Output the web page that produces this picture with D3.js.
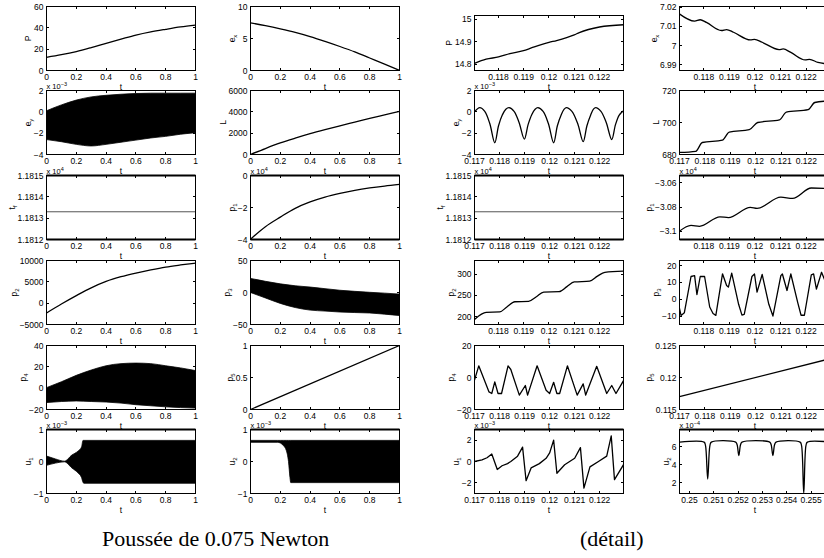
<!DOCTYPE html>
<html>
<head>
<meta charset="utf-8">
<script src="https://cdn.jsdelivr.net/npm/d3@7"></script>
<style>
body { margin: 0; background: #fff; }
svg { display: block; }
text { font-family: "Liberation Sans", Arial, sans-serif; fill: #000; }
</style>
</head>
<body>
<script>
// ---- full run (t from 0 to 1) ----
var tFull = [0, 0.1, 0.2, 0.3, 0.4, 0.5, 0.6, 0.7, 0.8, 0.9, 1];
var pFull = [12.3, 14.8, 17.8, 21.5, 25.5, 29.4, 33.2, 36.2, 38.6, 40.8, 42.5];
var exFull = [7.45, 7.0, 6.5, 5.95, 5.3, 4.55, 3.75, 2.9, 1.95, 1.0, 0.02];
var lFull = [0, 560, 1080, 1530, 1950, 2330, 2690, 3040, 3390, 3720, 4050];
var p1Full = [-3.98, -3.2, -2.6, -2.05, -1.65, -1.35, -1.12, -0.93, -0.78, -0.66, -0.56];
var p2Full = [-2300, -200, 1770, 3600, 5100, 6200, 7060, 7800, 8450, 8950, 9400];
// oscillating quantities: envelope of the black band
var eyHi = [0.1, 0.65, 1.1, 1.4, 1.55, 1.65, 1.72, 1.75, 1.75, 1.75, 1.75];
var eyLo = [-2.6, -2.8, -3.05, -3.2, -3.05, -2.85, -2.65, -2.45, -2.3, -2.1, -1.95];
var p3Hi = [22, 17.5, 13.5, 10.5, 8.5, 6, 3.5, 1.8, 0.3, -1, -2.5];
var p3Lo = [0, -8.5, -17, -23.5, -27.5, -29, -30.5, -31.3, -32, -33.8, -36];
var p4Hi = [0.5, 6, 12, 17, 21, 23, 23.5, 23, 21, 19, 16.5];
var p4Lo = [-13.5, -12.5, -12, -12.5, -13, -14, -15.5, -16.5, -17.5, -18.2, -18.7];
var u1T = [0, 0.06, 0.12, 0.17, 0.21, 0.235, 0.245, 0.25, 1];
var u1Hi = [0.17, 0.08, 0.01, 0.2, 0.32, 0.45, 0.66, 0.66, 0.66];
var u1Lo = [-0.12, -0.05, -0.01, -0.2, -0.35, -0.5, -0.65, -0.68, -0.68];
var u2T = [0, 0.18, 0.2, 0.22, 0.24, 0.255, 0.265, 0.27, 1];
var u2Hi = [0.66, 0.66, 0.66, 0.66, 0.66, 0.66, 0.66, 0.66, 0.66];
var u2Lo = [0.6, 0.6, 0.58, 0.5, 0.35, 0, -0.5, -0.66, -0.66];
var tLine = [0, 1];
var tfLine = [1.18133, 1.18133];
var p5Full = [0, 1];

// ---- detail window ----
var pDetT = [0.11705, 0.11751, 0.118, 0.11845, 0.11899, 0.1193, 0.12, 0.1203, 0.121, 0.1212, 0.122, 0.12295];
var pDet = [14.804, 14.822, 14.832, 14.847, 14.86, 14.872, 14.897, 14.905, 14.93, 14.94, 14.965, 14.975];
var eyDetT = [0.117, 0.11721, 0.11741, 0.11761, 0.11781, 0.11796, 0.11811, 0.11825, 0.11838, 0.11858, 0.11878, 0.11899,
  0.11914, 0.11929, 0.11942, 0.11953, 0.11974, 0.11995, 0.12016, 0.12031, 0.12046, 0.12058, 0.12067, 0.12089,
  0.12112, 0.12134, 0.12149, 0.12164, 0.12175, 0.12184, 0.12205, 0.12226, 0.12248, 0.12263, 0.12278, 0.12295];
var eyDet = [0, 0.4, 0.05, -1.1, -2.9, -1.3, -0.3, 0.25, 0.4, 0.05, -1.0, -2.55,
  -1.2, -0.25, 0.25, 0.4, 0.05, -1.1, -2.9, -1.3, -0.3, 0.25, 0.4, 0.05,
  -1.1, -2.8, -1.3, -0.3, 0.25, 0.4, 0.05, -1.0, -2.6, -1.2, -0.3, 0.1];
var tDetLine = [0.117, 0.12295];
var p2DetT = [0.11705, 0.11731, 0.11751, 0.11805, 0.11832, 0.11865, 0.11919, 0.1195, 0.11979, 0.1204, 0.12071, 0.121, 0.12161, 0.12192, 0.12221, 0.12295];
var p2Det = [193, 205, 210, 211, 222, 235, 236, 247, 258, 259, 271, 282, 284, 296, 305, 308];
var p4DetT = [0.117, 0.11717, 0.11758, 0.11769, 0.11781, 0.11794, 0.11808, 0.11834, 0.11845, 0.11879, 0.11903, 0.11912, 0.1195,
  0.11986, 0.12, 0.12016, 0.12029, 0.1204, 0.12071, 0.1211, 0.12134, 0.12144, 0.12188, 0.12228, 0.12248, 0.12265, 0.12295];
var p4Det = [-1.6, 7.3, -9, -10, -2.7, -10, -10, 7.3, 5, -11, -5, -11, 7.3,
  -8, -10, -3, -10, -10, 7.3, -11, -4, -11, 7, -10, -5, -10, -2];
var u1DetT = [0.117, 0.1173, 0.1175, 0.11769, 0.11791, 0.1181, 0.11832, 0.11845, 0.11872, 0.11892, 0.11906, 0.11926, 0.11959,
  0.11986, 0.12, 0.12016, 0.12029, 0.1206, 0.121, 0.12123, 0.12137, 0.12161, 0.12195, 0.12228, 0.12246, 0.12259, 0.12295];
var u1Det = [0, 0.15, 0.35, 0.7, -0.75, -0.4, -0.2, 0, 0.5, 1.35, -1.8, -0.6, -0.2,
  0.3, 0.8, 2.0, -1.1, -0.3, 0.3, 1.3, -2.5, -0.5, 0, 0.5, 2.4, -1.7, -0.3];
var exDetT = [0.117, 0.11764, 0.11786, 0.1181, 0.11869, 0.11889, 0.11916, 0.11982, 0.11998, 0.12028, 0.12094, 0.1211, 0.1214, 0.12196, 0.12213, 0.12246, 0.1229];
var exDet = [7.0169, 7.0127, 7.0134, 7.012, 7.0078, 7.0083, 7.0069, 7.0029, 7.0032, 7.0017, 6.9979, 6.9982, 6.9964, 6.9925, 6.9928, 6.9912, 6.9904];
var lDetT = [0.117, 0.11764, 0.1179, 0.11869, 0.11896, 0.11975, 0.12008, 0.12094, 0.12121, 0.12207, 0.12233, 0.1229];
var lDet = [681.3, 682, 687.5, 689, 694, 695.5, 700, 701.6, 706.5, 708, 712.5, 713.5];
var p1DetT = [0.117, 0.1175, 0.11783, 0.11863, 0.11896, 0.11982, 0.12008, 0.12101, 0.12147, 0.1222, 0.1229];
var p1Det = [-3.1006, -3.095, -3.0958, -3.088, -3.0886, -3.0802, -3.081, -3.0718, -3.0728, -3.0642, -3.0648];
var p3DetT = [0.117, 0.11711, 0.11724, 0.1175, 0.11764, 0.11773, 0.11786, 0.11803, 0.11823, 0.11836, 0.11847, 0.11873,
  0.11889, 0.11896, 0.11909, 0.11936, 0.11949, 0.11958, 0.11988, 0.11998, 0.12008, 0.12028, 0.12054, 0.1207,
  0.12101, 0.12107, 0.12125, 0.1214, 0.12167, 0.1218, 0.12193, 0.1222, 0.12229, 0.1224, 0.1226, 0.1229];
var p3Det = [-2, -9.6, -8, 13.5, 14, 2.8, 13.5, 13.5, -4.6, -8.5, -9.6, 15.1,
  8.2, 7.2, 15.5, -3, -9.4, -9, 13.5, 15, 4.2, 14.7, -3, -10,
  14, 15, 5.2, 15, -2, -9.5, -9.5, 14.5, 15, 6, 16, 5];
var p5Det = [0.117, 0.12295];
var u2DetT = [0.2496, 0.2506, 0.25066, 0.25075, 0.25084, 0.2509, 0.2519, 0.25196, 0.25203, 0.2521, 0.25216,
  0.2533, 0.25336, 0.25343, 0.2535, 0.25356, 0.25455, 0.25461, 0.2547, 0.25479, 0.25485, 0.2558];
var u2Det = [6.5, 6.5, 6.1, 2.4, 6.1, 6.5, 6.5, 6.2, 5.0, 6.2, 6.5,
  6.5, 6.2, 5.0, 6.2, 6.5, 6.5, 6.1, 0.8, 6.1, 6.5, 6.5];

// ---- tick labels ----
var xTicksFull = [0, 0.2, 0.4, 0.6, 0.8, 1];
var xTicksDet = [0.117, 0.118, 0.119, 0.12, 0.121, 0.122, 0.123];
var xTicksU2 = [0.25, 0.251, 0.252, 0.253, 0.254, 0.255];
var ticksP = [0, 20, 40, 60], ticksEy = [-4, -2, 0, 2], ticksTf = [1.1812, 1.1813, 1.1814, 1.1815],
    ticksP2 = [-5000, 0, 5000, 10000], ticksP4 = [-20, 0, 20, 40], ticksU = [-1, 0, 1],
    ticksEx = [0, 5, 10], ticksL = [0, 2000, 4000, 6000], ticksP1 = [-4, -2, 0],
    ticksP3 = [-50, 0, 50], ticksP5 = [0, 0.5, 1];
var ticksPDet = [14.8, 14.9, 15], ticksP2Det = [200, 250, 300], ticksP4Det = [-20, 0, 20],
    ticksU1Det = [-2, 0, 2], ticksExDet = [6.99, 7, 7.01, 7.02], ticksLDet = [680, 700, 720],
    ticksP1Det = [-3.1, -3.08, -3.06], ticksP3Det = [-10, 0, 10, 20],
    ticksP5Det = [0.115, 0.12, 0.125], ticksU2Det = [2, 4, 6];

var full = [0, 1], det = [0.117, 0.12295], det2 = [0.11705, 0.12295],
    det4 = [0.117, 0.12295], det4b = [0.11705, 0.12295];

var panels = [
  {col: 0, row: 0, name: "P", sub: "", t: tFull, y: pFull, xDom: full, xTicks: xTicksFull, yDom: [0, 60], yTicks: ticksP, smooth: true},
  {col: 0, row: 1, name: "e", sub: "y", t: tFull, lo: eyLo, hi: eyHi, xDom: full, xTicks: xTicksFull, yDom: [-4, 2], yTicks: ticksEy, exp: "\u22123"},
  {col: 0, row: 2, name: "t", sub: "f", t: tLine, y: tfLine, xDom: full, xTicks: xTicksFull, yDom: [1.1812, 1.1815], yTicks: ticksTf, exp: "4", thin: true},
  {col: 0, row: 3, name: "p", sub: "2", t: tFull, y: p2Full, xDom: full, xTicks: xTicksFull, yDom: [-5000, 10000], yTicks: ticksP2, smooth: true},
  {col: 0, row: 4, name: "p", sub: "4", t: tFull, lo: p4Lo, hi: p4Hi, xDom: full, xTicks: xTicksFull, yDom: [-20, 40], yTicks: ticksP4},
  {col: 0, row: 5, name: "u", sub: "1", t: u1T, lo: u1Lo, hi: u1Hi, xDom: full, xTicks: xTicksFull, yDom: [-1, 1], yTicks: ticksU, exp: "\u22123"},
  {col: 1, row: 0, name: "e", sub: "x", t: tFull, y: exFull, xDom: full, xTicks: xTicksFull, yDom: [0, 10], yTicks: ticksEx, smooth: true},
  {col: 1, row: 1, name: "L", sub: "", t: tFull, y: lFull, xDom: full, xTicks: xTicksFull, yDom: [0, 6000], yTicks: ticksL, smooth: true},
  {col: 1, row: 2, name: "p", sub: "1", t: tFull, y: p1Full, xDom: full, xTicks: xTicksFull, yDom: [-4, 0], yTicks: ticksP1, exp: "4", smooth: true},
  {col: 1, row: 3, name: "p", sub: "3", t: tFull, lo: p3Lo, hi: p3Hi, xDom: full, xTicks: xTicksFull, yDom: [-50, 50], yTicks: ticksP3},
  {col: 1, row: 4, name: "p", sub: "5", t: tLine, y: p5Full, xDom: full, xTicks: xTicksFull, yDom: [0, 1], yTicks: ticksP5},
  {col: 1, row: 5, name: "u", sub: "2", t: u2T, lo: u2Lo, hi: u2Hi, xDom: full, xTicks: xTicksFull, yDom: [-1, 1], yTicks: ticksU, exp: "\u22123"},
  {col: 2, row: 0, name: "P", sub: "", t: pDetT, y: pDet, xDom: det2, xTicks: xTicksDet, yDom: [14.772, 15.016], yTicks: ticksPDet, smooth: true},
  {col: 2, row: 1, name: "e", sub: "y", t: eyDetT, y: eyDet, xDom: det, xTicks: xTicksDet, yDom: [-4, 2], yTicks: ticksEy, exp: "\u22123", catmull: true},
  {col: 2, row: 2, name: "t", sub: "f", t: tDetLine, y: tfLine, xDom: det, xTicks: xTicksDet, yDom: [1.1812, 1.1815], yTicks: ticksTf, exp: "4", thin: true},
  {col: 2, row: 3, name: "p", sub: "2", t: p2DetT, y: p2Det, xDom: det2, xTicks: xTicksDet, yDom: [181, 333], yTicks: ticksP2Det, smooth: true},
  {col: 2, row: 4, name: "p", sub: "4", t: p4DetT, y: p4Det, xDom: det, xTicks: xTicksDet, yDom: [-20, 20], yTicks: ticksP4Det},
  {col: 2, row: 5, name: "u", sub: "1", t: u1DetT, y: u1Det, xDom: det, xTicks: xTicksDet, yDom: [-3, 3], yTicks: ticksU1Det, exp: "\u22123"},
  {col: 3, row: 0, name: "e", sub: "x", t: exDetT, y: exDet, xDom: det4b, xTicks: xTicksDet, yDom: [6.987, 7.0203], yTicks: ticksExDet, smooth: true},
  {col: 3, row: 1, name: "L", sub: "", t: lDetT, y: lDet, xDom: det4, xTicks: xTicksDet, yDom: [680, 720], yTicks: ticksLDet, smooth: true},
  {col: 3, row: 2, name: "p", sub: "1", t: p1DetT, y: p1Det, xDom: det4b, xTicks: xTicksDet, yDom: [-3.1067, -3.0539], yTicks: ticksP1Det, exp: "4", smooth: true},
  {col: 3, row: 3, name: "p", sub: "3", t: p3DetT, y: p3Det, xDom: det4b, xTicks: xTicksDet, yDom: [-15, 23], yTicks: ticksP3Det},
  {col: 3, row: 4, name: "p", sub: "5", t: tDetLine, y: p5Det, xDom: det4, xTicks: xTicksDet, yDom: [0.115, 0.125], yTicks: ticksP5Det},
  {col: 3, row: 5, name: "u", sub: "2", t: u2DetT, y: u2Det, xDom: [0.24959, 0.2558], xTicks: xTicksU2, yDom: [0.8, 7.9], yTicks: ticksU2Det, exp: "\u22124", catmull: true}
];

// ---- layout ----
var width = 824, height = 558;
var colLeft = [46, 250, 474, 679],
    colWidth = [149, 149, 149, 151],
    rowTop = [6, 90, 175, 260, 345, 429],
    panelH = 64,
    tickLen = 2.5,
    fontSize = 8.5;

var svg = d3.select("body").append("svg")
    .attr("width", width)
    .attr("height", height);

function fmt(d) {
  return String(+d.toPrecision(6)).replace("-", "\u2212");
}

panels.forEach(function(p, i) {
  var left = colLeft[p.col] + 0.5,
      right = left + colWidth[p.col],
      bottom = rowTop[p.row] + panelH + 0.5,
      top = (p.col === 2 && p.row === 0) ? 15.5 : rowTop[p.row] + 0.5;

  var x = d3.scaleLinear().domain(p.xDom).range([left, right]);
  var y = d3.scaleLinear().domain(p.yDom).range([bottom, top]);

  var g = svg.append("g").attr("class", "panel");
  var clipId = "clip" + i;
  g.append("clipPath").attr("id", clipId)
    .append("rect")
      .attr("x", left).attr("y", top)
      .attr("width", right - left).attr("height", bottom - top);

  var plot = g.append("g").attr("clip-path", "url(#" + clipId + ")");
  var idx = d3.range(p.t.length);

  if (p.lo) {
    var area = d3.area()
        .x(function(k) { return x(p.t[k]); })
        .y0(function(k) { return y(p.lo[k]); })
        .y1(function(k) { return y(p.hi[k]); })
        .curve(d3.curveMonotoneX);
    plot.append("path").attr("d", area(idx))
        .attr("fill", "#000").attr("stroke", "#000").attr("stroke-width", 0.8);
  } else {
    var curve = p.smooth ? d3.curveMonotoneX : (p.catmull ? d3.curveCatmullRom.alpha(0.5) : d3.curveLinear);
    var line = d3.line()
        .x(function(k) { return x(p.t[k]); })
        .y(function(k) { return y(p.y[k]); })
        .curve(curve);
    plot.append("path").attr("d", line(idx))
        .attr("fill", "none")
        .attr("stroke", p.thin ? "#555" : "#000")
        .attr("stroke-width", p.thin ? 1 : 1.3)
        .attr("stroke-linejoin", "round");
  }

  // box (the printed original shows heavier rules on some edges)
  g.append("rect")
      .attr("x", left).attr("y", top)
      .attr("width", right - left).attr("height", bottom - top)
      .attr("fill", "none").attr("stroke", "#000").attr("stroke-width", 1);
  if (p.row === 2 || p.row === 5) {
    g.append("line").attr("x1", left).attr("x2", right).attr("y1", top).attr("y2", top)
        .attr("stroke", "#000").attr("stroke-width", 2);
  }
  if (p.row === 2) {
    g.append("line").attr("x1", left).attr("x2", right).attr("y1", bottom).attr("y2", bottom)
        .attr("stroke", "#000").attr("stroke-width", 2);
  }

  // ticks inside, on all four sides
  var xt = p.xTicks.filter(function(d) { return d >= p.xDom[0] - 1e-9 && d <= p.xDom[1] + 1e-9; });
  var yt = p.yTicks;
  xt.forEach(function(d) {
    var px = Math.round(x(d) - 0.5) + 0.5;
    g.append("line").attr("x1", px).attr("x2", px).attr("y1", bottom).attr("y2", bottom - tickLen).attr("stroke", "#000");
    g.append("line").attr("x1", px).attr("x2", px).attr("y1", top).attr("y2", top + tickLen).attr("stroke", "#000");
    g.append("text").attr("x", x(d)).attr("y", bottom + 9.5)
        .attr("text-anchor", "middle").attr("font-size", fontSize)
        .text(fmt(d));
  });
  var maxW = 0;
  yt.forEach(function(d) {
    var py = Math.round(y(d) - 0.5) + 0.5;
    g.append("line").attr("x1", left).attr("x2", left + tickLen).attr("y1", py).attr("y2", py).attr("stroke", "#000");
    g.append("line").attr("x1", right).attr("x2", right - tickLen).attr("y1", py).attr("y2", py).attr("stroke", "#000");
    var lab = g.append("text").attr("x", left - 3).attr("y", y(d) + 3)
        .attr("text-anchor", "end").attr("font-size", fontSize)
        .text(fmt(d));
    maxW = Math.max(maxW, lab.node().getComputedTextLength());
  });

  // x label
  g.append("text").attr("x", (left + right) / 2).attr("y", bottom + 19.5)
      .attr("text-anchor", "middle").attr("font-size", fontSize).text("t");

  // y label with subscript
  var lx = left - 3 - maxW - 3,
      ly = (top + bottom) / 2;
  var yl = g.append("text")
      .attr("transform", "translate(" + lx + "," + ly + ") rotate(-90)")
      .attr("text-anchor", "middle").attr("font-size", fontSize);
  yl.append("tspan").text(p.name);
  if (p.sub) yl.append("tspan").attr("font-size", 6).attr("dy", 2).text(p.sub);

  // exponent above the axes
  if (p.exp) {
    var ex = g.append("text").attr("x", left).attr("y", top - 2).attr("font-size", 7.5);
    ex.append("tspan").text("x 10");
    ex.append("tspan").attr("font-size", 5.5).attr("dy", -3).text(p.exp);
  }
});

// captions
svg.append("text").attr("x", 102).attr("y", 546)
    .style("font-family", "'Liberation Serif', 'DejaVu Serif', serif")
    .attr("font-size", 22).text("Poussée de 0.075 Newton");
svg.append("text").attr("x", 580).attr("y", 546)
    .style("font-family", "'Liberation Serif', 'DejaVu Serif', serif")
    .attr("font-size", 22).text("(détail)");
</script>
</body>
</html>
